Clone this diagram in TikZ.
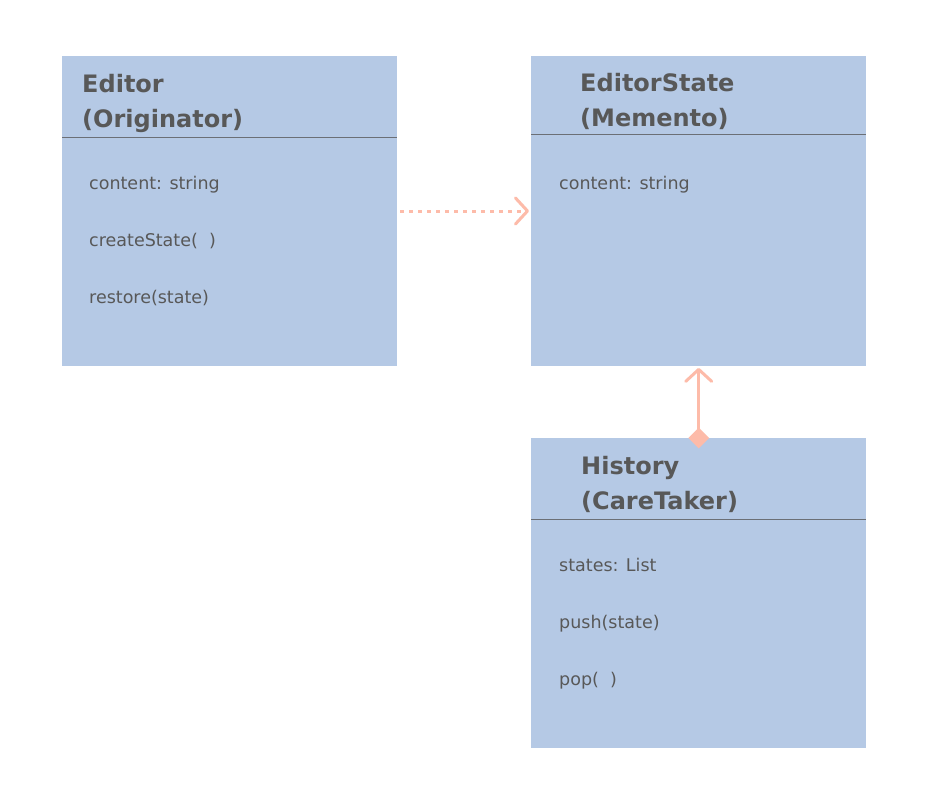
\documentclass[tikz,border=0pt]{standalone}
\usepackage{fontspec}
\setmainfont{DejaVu Sans}
\usetikzlibrary{arrows.meta,shapes.geometric}
\definecolor{boxfill}{HTML}{B5C9E5}
\definecolor{txt}{HTML}{585858}
\definecolor{sepline}{HTML}{6B6F76}
\definecolor{arrowc}{HTML}{FDBBA9}
\tikzset{
  classbox/.style={fill=boxfill, draw=none, anchor=north west, inner sep=0pt, minimum width=335pt, minimum height=310pt},
  titletext/.style={anchor=base west, inner sep=0pt, text=txt, font=\fontsize{24}{30}\selectfont\bfseries},
  membertext/.style={anchor=base west, inner sep=0pt, text=txt, font=\fontsize{17.5}{21}\selectfont},
  sep/.style={draw=sepline, line width=1pt},
  conn/.style={draw=arrowc, line width=3pt},
}
\begin{document}
\begin{tikzpicture}[x=1pt,y=-1pt]
\useasboundingbox (0,0) rectangle (948,804);
\fill[white] (0,0) rectangle (948,804);
% boxes
\node[classbox] (editor) at (62,56) {};
\node[classbox] (state) at (531,56) {};
\node[classbox] (history) at (531,438) {};
% separators
\coordinate (es1) at (62,137); \coordinate (es2) at (397,137);
\coordinate (ss1) at (531,134); \coordinate (ss2) at (866,134);
\coordinate (hs1) at (531,519); \coordinate (hs2) at (866,519);
\draw[sep] (es1) -- (es2);
\draw[sep] (ss1) -- (ss2);
\draw[sep] (hs1) -- (hs2);
% titles
\node[titletext] (edt1) at (82,92) {Editor};
\node[titletext] (edt2) at (82,127) {(Originator)};
\node[titletext] (stt1) at (580,91) {EditorState};
\node[titletext] (stt2) at (580,126) {(Memento)};
\node[titletext] (hit1) at (581,474) {History};
\node[titletext] (hit2) at (581,509) {(CareTaker)};
% members
\node[membertext] (em1) at (89,189) {content: string};
\node[membertext] (em2) at (89,246) {createState(\ \ )};
\node[membertext] (em3) at (89,303) {restore(state)};
\node[membertext] (sm1) at (559,189) {content: string};
\node[membertext] (hm1) at (559,571) {states: List};
\node[membertext] (hm2) at (559,628) {push(state)};
\node[membertext] (hm3) at (559,685) {pop(\ \ )};
% connectors
\coordinate (dstart) at (400,211);
\coordinate (dend) at (529,211);
\draw[conn, dash pattern=on 4pt off 5pt, -{Straight Barb[length=12pt,width=26pt,line cap=round,line join=round]}] (dstart) -- (dend);
\node[diamond, fill=arrowc, inner sep=0pt, minimum width=21pt, minimum height=21pt] (dm) at (history.north) {};
\draw[conn, shorten >=1.5pt, -{Straight Barb[length=12pt,width=26pt,line cap=round,line join=round]}] (dm.center) -- (state.south);
\end{tikzpicture}
\end{document}
